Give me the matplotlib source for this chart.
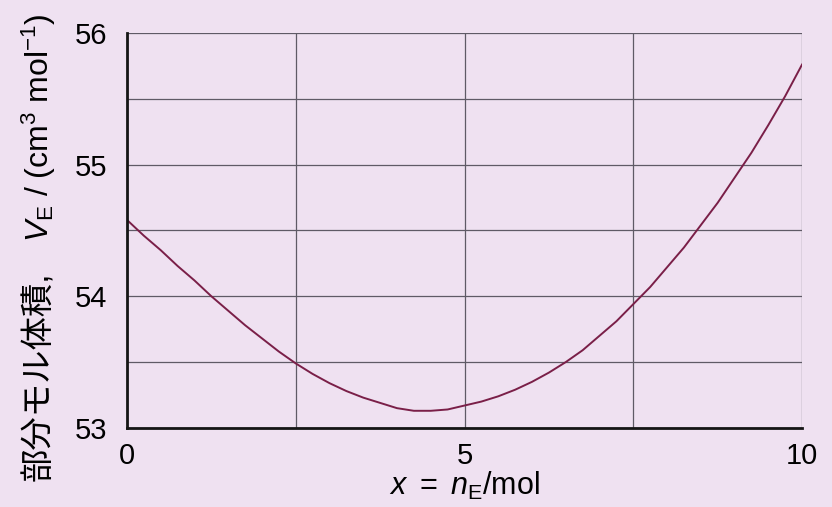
import numpy as np
import matplotlib.pyplot as plt

# partial molar volume of ethanol against amount of ethanol
n_E = [0.0, 0.25, 0.5, 0.75, 1.0, 1.25, 1.5, 1.75, 2.0, 2.25, 2.5,
       2.75, 3.0, 3.25, 3.5, 3.75, 4.0, 4.25, 4.5, 4.75, 5.0,
       5.25, 5.5, 5.75, 6.0, 6.25, 6.5, 6.75, 7.0, 7.25, 7.5,
       7.75, 8.0, 8.25, 8.5, 8.75, 9.0, 9.25, 9.5, 9.75, 10.0]
V_E = [54.58, 54.46, 54.35, 54.23, 54.12, 54.00, 53.89, 53.78, 53.68, 53.58, 53.49,
       53.41, 53.34, 53.28, 53.23, 53.19, 53.15, 53.13, 53.13, 53.14, 53.17,
       53.20, 53.24, 53.29, 53.35, 53.42, 53.50, 53.59, 53.70, 53.81, 53.94,
       54.07, 54.22, 54.37, 54.54, 54.71, 54.90, 55.09, 55.30, 55.52, 55.76]

x_ticks = [0, 5, 10]
y_ticks = [53, 54, 55, 56]
x_grid = [0, 2.5, 5, 7.5, 10]
y_grid = [53, 53.5, 54, 54.5, 55, 55.5, 56]

bg = '#efe1f1'
plt.rcParams['font.family'] = ['Liberation Sans', 'Noto Sans CJK JP']
plt.rcParams['mathtext.fontset'] = 'custom'
plt.rcParams['mathtext.rm'] = 'Liberation Sans'
plt.rcParams['mathtext.it'] = 'Liberation Sans:italic'

fig = plt.figure(figsize=(8.32, 5.07), dpi=100, facecolor=bg)
ax = fig.add_axes([0.1526, 0.156, 0.8114, 0.779], facecolor=bg)

for g in x_grid:
    ax.axvline(g, color='#5f5a66', lw=0.9, zorder=1)
for g in y_grid:
    ax.axhline(g, color='#5f5a66', lw=0.9, zorder=1)

ax.plot(n_E, V_E, color='#7a1f48', lw=1.4, zorder=3)

ax.set_xlim(0, 10)
ax.set_ylim(53, 56)
ax.set_xticks(x_ticks)
ax.set_yticks(y_ticks)
ax.tick_params(length=0, labelsize=21)
ax.tick_params(axis='y', pad=14)
ax.tick_params(axis='x', pad=10)

for s in ['top', 'right']:
    ax.spines[s].set_visible(False)
for s in ['left', 'bottom']:
    ax.spines[s].set_linewidth(2)
    ax.spines[s].set_color('#151515')
    ax.spines[s].set_zorder(4)

ax.set_xlabel('$x\\ =\\ n_{\\rm E}$/mol', fontsize=22, labelpad=0)

# y label in two pieces: mathtext cannot fall back to the CJK font
lab_x = 0.047
fig.text(lab_x, 1 - 13 / 507, '$V_{\\rm E}$ / (cm$^3$ mol$^{-1}$)',
         rotation=90, ha='center', va='top', fontsize=23)
fig.text(lab_x, 1 - 481 / 507, '部分モル体積,', rotation=90, ha='center', va='bottom',
         fontsize=24)

fig.savefig('out.png', dpi=100, facecolor=bg)
